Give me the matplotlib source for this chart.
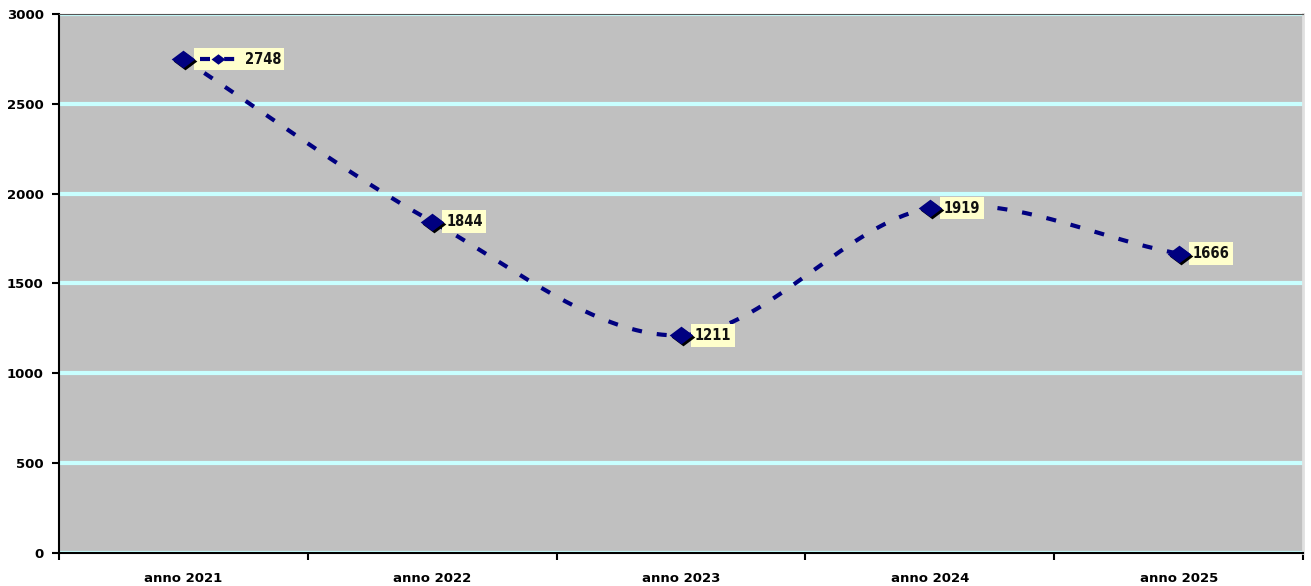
import numpy as np
import matplotlib
matplotlib.use("Agg")
import matplotlib.pyplot as plt
import matplotlib.transforms as mtransforms
from matplotlib.offsetbox import AnnotationBbox, HPacker, TextArea, DrawingArea
from matplotlib.lines import Line2D

categories = ["anno 2021", "anno 2022", "anno 2023", "anno 2024", "anno 2025"]
values = [2748, 1844, 1211, 1919, 1666]

navy = "#000080"
diamond = [(-1, 0), (0, 0.75), (1, 0), (0, -0.75), (-1, 0)]


def smooth(x, y, n=40):
    # catmull-rom style smoothing like the spreadsheet "smoothed line"
    x = np.asarray(x, float)
    y = np.asarray(y, float)
    px = np.concatenate([[2 * x[0] - x[1]], x, [2 * x[-1] - x[-2]]])
    py = np.concatenate([[2 * y[0] - y[1]], y, [2 * y[-1] - y[-2]]])
    xs, ys = [], []
    t = np.linspace(0, 1, n)
    for i in range(1, len(px) - 2):
        for arr, out in ((px, xs), (py, ys)):
            a, b, c, d = arr[i - 1], arr[i], arr[i + 1], arr[i + 2]
            out.extend(0.5 * (2 * b + (-a + c) * t + (2 * a - 5 * b + 4 * c - d) * t ** 2
                              + (-a + 3 * b - 3 * c + d) * t ** 3))
    return np.array(xs), np.array(ys)


fig = plt.figure(figsize=(13.11, 5.86), dpi=100)
ax = fig.add_axes([0.045, 0.0563, 0.949, 0.92])
ax.set_facecolor("#c0c0c0")

x = np.arange(len(categories))
sx, sy = smooth(x, values)
ax.plot(sx, sy, color=navy, lw=3, dashes=(2.4, 3.6), zorder=3)
# marker shadow then marker
shadow = mtransforms.offset_copy(ax.transData, fig=fig, x=1.5, y=-1.5, units="points")
ax.plot(x, values, marker=diamond, ls="none", color="black", ms=17, mew=0,
        transform=shadow, zorder=7)
ax.plot(x, values, marker=diamond, ls="none", color=navy, ms=17, mew=0, zorder=8)

ax.set_xlim(-0.5, len(categories) - 0.5)
ax.set_ylim(0, 3000)
ax.set_yticks(np.arange(0, 3001, 500))
ax.set_xticks(np.arange(-0.5, len(categories)), minor=False)
ax.set_xticklabels([])
ax.set_xticks(x, minor=True)
ax.set_xticklabels(categories, minor=True)
ax.tick_params(axis="x", which="major", length=5, width=1.5)
ax.tick_params(axis="x", which="minor", length=0, pad=14)
ax.tick_params(axis="y", length=5, width=1.5, pad=6)
for lab in ax.get_xticklabels(minor=True) + ax.get_yticklabels():
    lab.set_fontweight("bold")
    lab.set_fontsize(9.5)

ax.yaxis.grid(True, color="#c8ffff", lw=3)
ax.set_axisbelow(True)
for s in ("left", "bottom"):
    ax.spines[s].set_linewidth(1.5)
ax.spines["top"].set_color("#555555")
ax.spines["right"].set_color("#e0e0e0")
ax.spines["right"].set_linewidth(2)

lab_font = dict(fontsize=10.5, fontweight="bold", fontstretch="condensed", color="#111111")
box = dict(boxstyle="square,pad=0.25", fc="#ffffcc", ec="none")

for i, v in enumerate(values):
    if i == 0:
        da = DrawingArea(32, 10, 0, 0)
        da.add_artist(Line2D([2, 32], [5, 5], color=navy, lw=3, dashes=(2.4, 3.4)))
        da.add_artist(Line2D([15], [5], marker=diamond, color=navy, ms=10, mew=0))
        txt = TextArea(str(v), textprops=lab_font)
        pack = HPacker(children=[da, txt], pad=0, sep=2, align="center")
        ab = AnnotationBbox(pack, (i, v), xybox=(10, 0), xycoords="data",
                            boxcoords="offset points", box_alignment=(0, 0.5),
                            frameon=True, pad=0.25,
                            bboxprops=dict(boxstyle="square,pad=0.25", fc="#ffffcc", ec="none"),
                            zorder=6)
        ax.add_artist(ab)
    else:
        ax.annotate(str(v), (i, v), xytext=(10, 0), textcoords="offset points",
                    va="center", ha="left", bbox=box, zorder=6, **lab_font)

fig.savefig("out.png", dpi=100)
